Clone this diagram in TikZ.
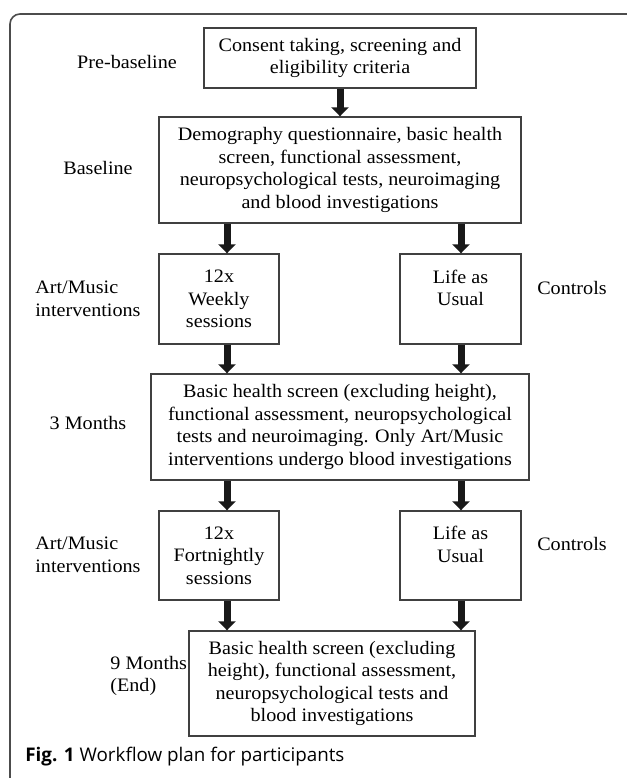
\documentclass[tikz,border=0pt]{standalone}
\usepackage{fontspec}
\setmainfont[FakeStretch=1.06]{Liberation Serif}
\newfontfamily\capfont{Open Sans}
\usepackage{tikz}
\usetikzlibrary{arrows.meta}
\tikzset{>={Triangle[width=8.5pt,length=4.5pt]}}

\begin{document}
\begin{tikzpicture}[x=0.5pt, y=-0.5pt,
    box/.style={draw=black!75, line width=0.7pt, align=center, inner sep=1pt,
      font=\fontsize{9.5}{11.25}\selectfont},
    lbl/.style={align=left, inner sep=0pt, font=\fontsize{9.5}{11.25}\selectfont},
    fat/.style={->, line width=3.5pt, black!90}]
  \useasboundingbox (0, 0) rectangle (627, 778);
  \fill[white] (0, 0) rectangle (627, 778);
  \draw[black!70, line width=0.8pt, rounded corners=5pt] (10, 790) -- (10, 14) -- (640, 14);

  \coordinate (colL) at (227, 0);
  \coordinate (colR) at (461, 0);

  \node[box, minimum width=136pt, minimum height=30pt] (consent) at (340, 58)
    {Consent taking, screening and\\eligibility criteria};
  \node[box, minimum width=181pt, minimum height=53pt] (baseline) at (340, 170)
    {Demography questionnaire, basic health\\screen, functional assessment,\\neuropsychological tests, neuroimaging\\and blood investigations};
  \node[box, minimum width=60pt, minimum height=45pt] (weekly) at (219, 299)
    {12x\\Weekly\\sessions};
  \node[box, minimum width=60.5pt, minimum height=45pt] (usualA) at (460.5, 299)
    {Life as\\Usual\\\mbox{}};
  \node[box, minimum width=189pt, minimum height=53pt] (threemo) at (340, 427)
    {Basic health screen (excluding height),\\functional assessment, neuropsychological\\tests and neuroimaging. Only Art/Music\\interventions undergo blood investigations};
  \node[box, minimum width=60pt, minimum height=44.5pt] (fortnight) at (219, 555.5)
    {12x\\Fortnightly\\sessions};
  \node[box, minimum width=60.5pt, minimum height=44.5pt] (usualB) at (460.5, 555.5)
    {Life as\\Usual\\\mbox{}};
  \node[box, minimum width=143pt, minimum height=52.5pt] (ninemo) at (332, 683.5)
    {Basic health screen (excluding\\height), functional assessment,\\neuropsychological tests and\\blood investigations};

  \node[lbl] (preL) at (127, 62) {Pre-baseline};
  \node[lbl] (baseL) at (98, 168) {Baseline};
  \node[lbl, anchor=west] (artA) at (35, 299) {Art/Music\\interventions};
  \node[lbl] (ctrlA) at (572, 288) {Controls};
  \node[lbl] (threeL) at (88, 423) {3 Months};
  \node[lbl, anchor=west] (artB) at (35, 555) {Art/Music\\interventions};
  \node[lbl] (ctrlB) at (572, 544) {Controls};
  \node[lbl, anchor=west] (nineL) at (110, 676) {9 Months\\(End)};

  \draw[fat] (consent) -- (baseline);
  \draw[fat] (baseline.south -| colL) -- (weekly.north -| colL);
  \draw[fat] (baseline.south -| colR) -- (usualA.north -| colR);
  \draw[fat] (weekly.south -| colL) -- (threemo.north -| colL);
  \draw[fat] (usualA.south -| colR) -- (threemo.north -| colR);
  \draw[fat] (threemo.south -| colL) -- (fortnight.north -| colL);
  \draw[fat] (threemo.south -| colR) -- (usualB.north -| colR);
  \draw[fat] (fortnight.south -| colL) -- (ninemo.north -| colL);
  \draw[fat] (usualB.south -| colR) -- (ninemo.north -| colR);

  \node[anchor=west, inner sep=0pt, font=\capfont\fontsize{9.4}{11}\selectfont] (caption) at (25, 757)
    {\textbf{Fig. 1} Workflow plan for participants};
\end{tikzpicture}
\end{document}
